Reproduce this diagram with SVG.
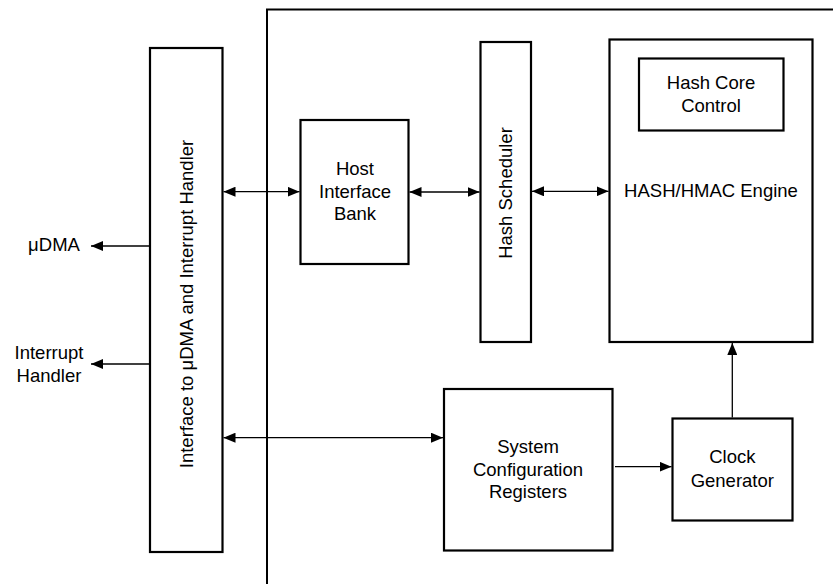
<svg xmlns="http://www.w3.org/2000/svg" width="833" height="584" viewBox="0 0 833 584">
<style>
.box{fill:#fff;stroke:#000;stroke-width:2.2}
.frame{fill:none;stroke:#000;stroke-width:2}
.c{fill:none;stroke:#000;stroke-width:1.3}
text{font-family:"Liberation Sans",Arial,sans-serif;font-size:18.5px;fill:#000}
.m{text-anchor:middle}
</style>
<defs>
<marker id="ah" viewBox="0 0 12 10" refX="12" refY="5" markerWidth="12" markerHeight="10" markerUnits="userSpaceOnUse" orient="auto-start-reverse">
<path d="M0,0 L12,5 L0,10 Z" fill="#000"/>
</marker>
</defs>
<rect width="833" height="584" fill="#fff"/>
<path class="frame" d="M267,584 V9.5 H833"/>
<g id="iface">
<rect class="box" x="150" y="48" width="72.5" height="504"/>
<text class="m" transform="translate(193,304) rotate(-90)">Interface to μDMA and Interrupt Handler</text>
</g>
<g id="host">
<rect class="box" x="300.5" y="120" width="108" height="144"/>
<text class="m" x="355" y="175">Host</text>
<text class="m" x="355" y="198">Interface</text>
<text class="m" x="355" y="220">Bank</text>
</g>
<g id="sched">
<rect class="box" x="480.5" y="42" width="50.5" height="300"/>
<text class="m" transform="translate(511.5,193) rotate(-90)">Hash Scheduler</text>
</g>
<g id="engine">
<rect class="box" x="609.5" y="39.5" width="203" height="302.5"/>
<text class="m" x="711" y="196.7">HASH/HMAC Engine</text>
</g>
<g id="corectl">
<rect class="box" x="639" y="58.5" width="144.5" height="72"/>
<text class="m" x="711" y="89.3">Hash Core</text>
<text class="m" x="711" y="111.7">Control</text>
</g>
<g id="sysconf">
<rect class="box" x="444" y="389" width="168.5" height="161.5"/>
<text class="m" x="528" y="453">System</text>
<text class="m" x="528" y="476">Configuration</text>
<text class="m" x="528" y="498">Registers</text>
</g>
<g id="clock">
<rect class="box" x="672.5" y="418.5" width="120" height="102"/>
<text class="m" x="732.3" y="463.3">Clock</text>
<text class="m" x="732.3" y="486.7">Generator</text>
</g>
<g id="ext-udma"><text class="m" x="54" y="251">μDMA</text></g>
<g id="ext-int">
<text class="m" x="49" y="359">Interrupt</text>
<text class="m" x="49" y="382">Handler</text>
</g>
<g id="connectors">
<line class="c" x1="150" y1="246" x2="91" y2="246" marker-end="url(#ah)"/>
<line class="c" x1="150" y1="364" x2="91" y2="364" marker-end="url(#ah)"/>
<line class="c" x1="223.5" y1="191.7" x2="299.5" y2="191.7" marker-start="url(#ah)" marker-end="url(#ah)"/>
<line class="c" x1="409.5" y1="192" x2="479.5" y2="192" marker-start="url(#ah)" marker-end="url(#ah)"/>
<line class="c" x1="532" y1="191.3" x2="608.5" y2="191.3" marker-start="url(#ah)" marker-end="url(#ah)"/>
<line class="c" x1="223.5" y1="437.7" x2="443" y2="437.7" marker-start="url(#ah)" marker-end="url(#ah)"/>
<line class="c" x1="615" y1="466.7" x2="671.5" y2="466.7" marker-end="url(#ah)"/>
<line class="c" x1="732.3" y1="417.5" x2="732.3" y2="343" marker-end="url(#ah)"/>
</g>
</svg>
